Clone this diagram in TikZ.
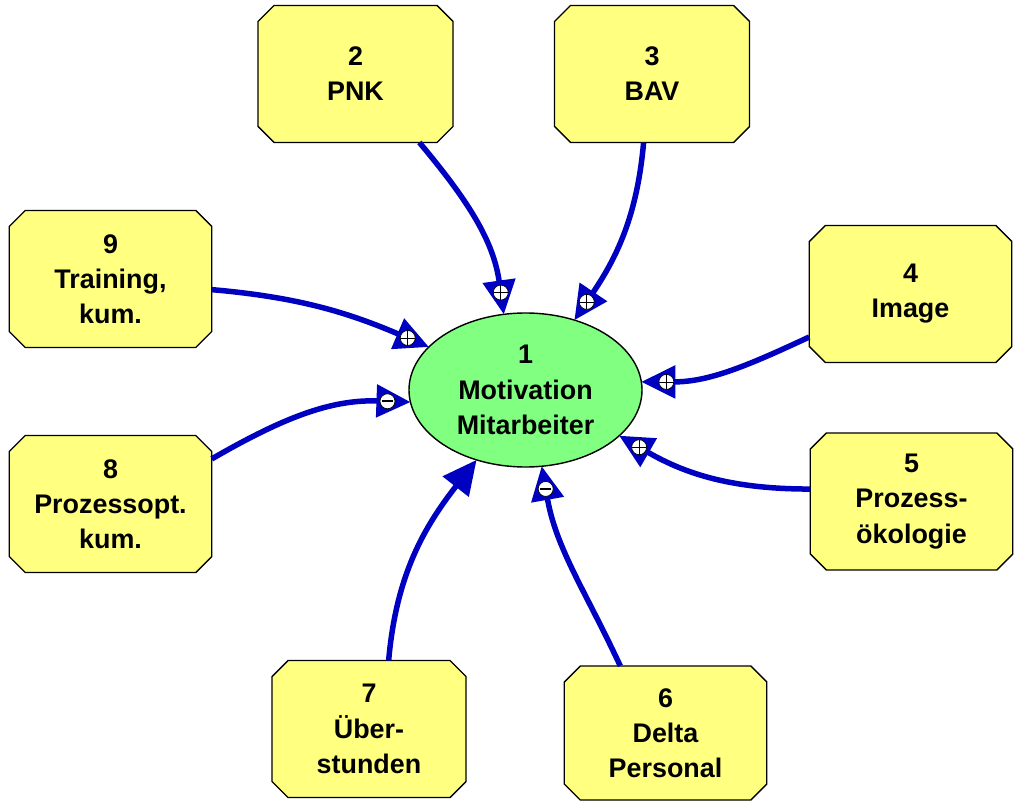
\documentclass[tikz,border=0pt]{standalone}
\usepackage{fontspec}
\setmainfont{Liberation Sans}
\usetikzlibrary{shapes.misc,shapes.geometric,arrows.meta}
\definecolor{boxyellow}{RGB}{255,255,128}
\definecolor{motgreen}{RGB}{128,255,128}
\definecolor{linkblue}{RGB}{0,0,192}

\begin{document}
\begin{tikzpicture}[inner sep=0pt,outer sep=0pt,
font=\fontsize{15.3}{20}\selectfont\bfseries,
varblock/.style={draw,chamfered rectangle,chamfered rectangle xsep=0.16cm,chamfered rectangle ysep=0.16cm,fill=boxyellow,align=center,minimum width=4.05cm,minimum height=2.74cm,thick},
motive/.style={draw,ellipse,fill=motgreen,align=center,minimum width=4.66cm,minimum height=3.08cm,thick},
link/.style={draw=linkblue,line width=0.11cm,-{Triangle[length=0.68cm,width=0.64cm]},linkblue},
sign/.style={draw,circle,fill=white,minimum size=0.3cm,thin},
plus/.style={sign,path picture={\draw (path picture bounding box.north) -- (path picture bounding box.south) (path picture bounding box.west) -- (path picture bounding box.east);}},
minus/.style={sign,path picture={\draw[line width=1.3pt] ([xshift=1.2pt]path picture bounding box.west) -- ([xshift=-1.2pt]path picture bounding box.east);}}]
\useasboundingbox (0,0) rectangle (20.3,-16.06);

\draw (10.51,-7.8) node[motive] (m) {1\\Motivation\\Mitarbeiter};
\draw (7.11,-1.48) node[varblock,minimum width=3.9cm] (n2) {2\\PNK};
\draw (13.04,-1.48) node[varblock,minimum width=3.9cm] (n3) {3\\BAV};
\draw (18.21,-5.88) node[varblock] (n4) {4\\Image};
\draw (18.23,-10.03) node[varblock] (n5) {5\\Prozess-\\ökologie};
\draw (13.31,-14.66) node[varblock,minimum height=2.68cm] (n6) {6\\Delta\\Personal};
\draw (7.38,-14.58) node[varblock,minimum width=3.88cm] (n7) {7\\Über-\\stunden};
\draw (2.21,-10.08) node[varblock] (n8) {8\\Prozessopt.\\kum.};
\draw (2.21,-5.58) node[varblock] (n9) {9\\Training,\\kum.};

\draw[link] (n2.-47) to[out=-50,in=98] (m.106);
\draw (m.106) ++(98:0.44) node[plus] {};
\draw[link] (n3.-97) to[out=-95,in=56] (m.55);
\draw (m.55) ++(56:0.44) node[plus] {};
\draw[link] (n4.203) to[out=205,in=0] (m.4);
\draw (m.4) ++(0:0.5) node[plus] {};
\draw[link] (n5.173.5) to[out=180,in=-30] (m.-26);
\draw (m.-26) ++(-30:0.46) node[plus] {};
\draw[link] (n6.124) to[out=115,in=-80] (m.-78);
\draw (m.-78) ++(-80:0.46) node[minus] {};
\draw[link] (n7.74) to[out=85,in=232] (m.235);
\draw[link] (n8.24) to[out=30,in=178] (m.186);
\draw (m.186) ++(178:0.46) node[minus] {};
\draw[link] (n9.-6) to[out=-5,in=157] (m.156);
\draw (m.156) ++(157:0.46) node[plus] {};
\end{tikzpicture}
\end{document}
